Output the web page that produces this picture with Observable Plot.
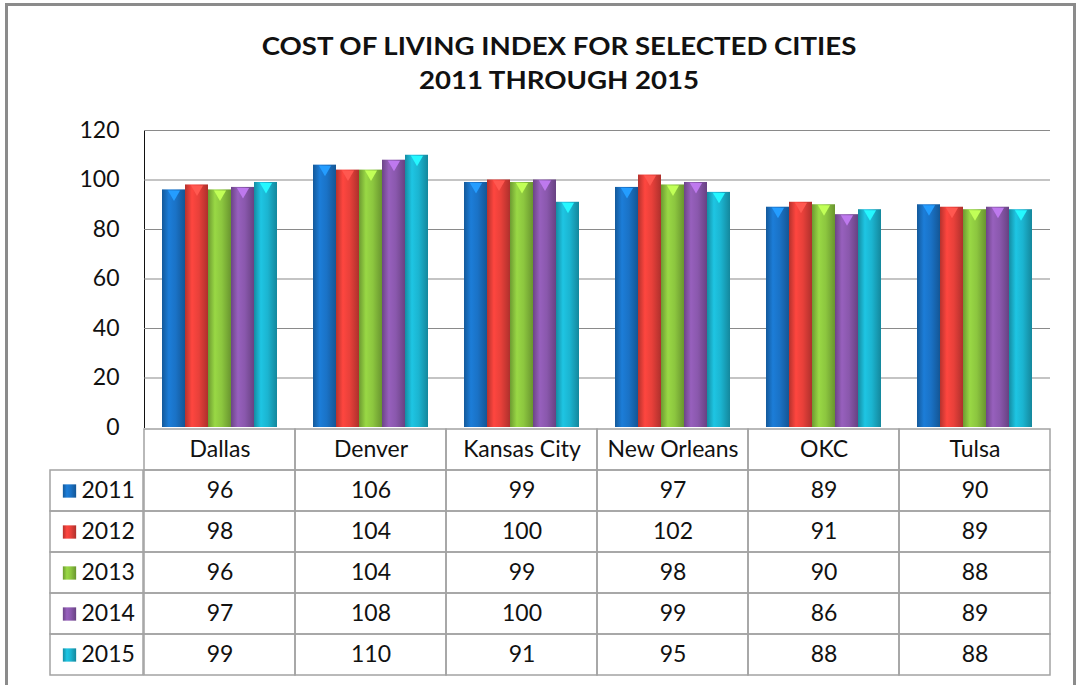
<!DOCTYPE html>
<html><head><meta charset="utf-8">
<script src="https://cdn.jsdelivr.net/npm/d3@7"></script>
<script src="https://cdn.jsdelivr.net/npm/@observablehq/plot@0.6"></script>
<style>
body{margin:0;background:#fff;font-family:Lato,sans-serif;}
#frame{position:absolute;left:5px;top:3px;width:1071px;height:720px;border:3px solid #8b8b8b;border-bottom:none;box-sizing:border-box;}
#title{position:absolute;left:159px;width:800px;top:29px;text-align:center;font-weight:bold;font-size:24px;line-height:34px;color:#111;transform:scaleX(1.15);transform-origin:center;}
#chart{position:absolute;left:0;top:110px;z-index:2;}
#chart svg{overflow:visible;}
#table{position:absolute;left:0;top:426px;z-index:1;}
#legend{position:absolute;left:49px;top:426px;z-index:1;}
</style></head>
<body>
<div id="frame"></div>
<div id="title">COST OF LIVING INDEX FOR SELECTED CITIES<br>2011 THROUGH 2015</div>
<div id="chart"></div><div id="table"></div><div id="legend"></div>
<script>
const cities = ["Dallas", "Denver", "Kansas City", "New Orleans", "OKC", "Tulsa"];
const years = ["2011", "2012", "2013", "2014", "2015"];
const values2011 = [96, 106, 99, 97, 89, 90];
const values2012 = [98, 104, 100, 102, 91, 89];
const values2013 = [96, 104, 99, 98, 90, 88];
const values2014 = [97, 108, 100, 99, 86, 89];
const values2015 = [99, 110, 91, 95, 88, 88];
const yTicks = [0, 20, 40, 60, 80, 100, 120];
const colors = ["#1a72c6", "#e8403a", "#8cc63f", "#8a58ad", "#1bb4d0"];

const series = [values2011, values2012, values2013, values2014, values2015];
const data = cities.flatMap((c, i) => years.map((yr, j) => ({city: c, year: yr, value: series[j][i]})));
const gradUrls = years.map((_, j) => `url(#grad${j})`);
const fontStyle = {fontFamily: "Lato, sans-serif", fontSize: "23px", color: "#111", background: "transparent", overflow: "visible"};

const bevels = years.map((yr, j) => Plot.dot(data.filter(d => d.year === yr), {
  fx: "city", x: "year", y: "value", symbol: "triangle", rotate: 180, r: 4.5, dy: 4,
  fill: d3.color(colors[j]).brighter(0.9).formatHex(), stroke: "none"
}));

const chart = Plot.plot({
  width: 1076, height: 318, marginLeft: 142, marginRight: 25, marginTop: 20, marginBottom: 1,
  style: fontStyle,
  fx: {domain: cities, padding: 0, axis: null},
  x: {domain: years, paddingInner: 0, paddingOuter: 0.735, axis: null},
  y: {domain: [0, 120], ticks: yTicks, tickSize: 0, tickPadding: 25, line: true, label: null},
  color: {domain: years, range: gradUrls},
  marks: [
    Plot.ruleY(yTicks.filter(d => d > 0), {stroke: "#8a8a8a", strokeWidth: 1.2}),
    Plot.barY(data, {fx: "city", x: "year", y: "value", fill: "year"}),
    ...bevels
  ]
});
const defs = d3.select(chart).insert("defs", ":first-child");
colors.forEach((c, j) => {
  const g = defs.append("linearGradient").attr("id", `grad${j}`).attr("x1", 0).attr("x2", 1).attr("y1", 0).attr("y2", 0);
  const base = d3.color(c);
  [[0, base.darker(0.7)], [0.3, base.brighter(0.25)], [0.6, base], [1, base.darker(0.8)]].forEach(([o, col]) =>
    g.append("stop").attr("offset", o).attr("stop-color", col.formatHex()));
});
document.getElementById("chart").append(chart);

const header = cities.map(c => ({col: c, row: "", text: c}));
const body = years.flatMap((yr, j) => cities.map((c, i) => ({col: c, row: yr, text: String(series[j][i])})));
const table = Plot.plot({
  width: 1076, height: 251, marginLeft: 142, marginRight: 25, marginTop: 1, marginBottom: 1,
  style: fontStyle,
  x: {domain: cities, padding: 0, axis: null},
  y: {domain: ["", ...years], padding: 0, axis: null},
  marks: [
    Plot.cell([...header, ...body], {x: "col", y: "row", fill: "none", stroke: "#a3a3a3", strokeWidth: 1.5, inset: 0}),
    Plot.text([...header, ...body], {x: "col", y: "row", text: "text", fill: "#111", fontSize: 23})
  ]
});
document.getElementById("table").append(table);

const legend = Plot.plot({
  width: 94, height: 251, marginLeft: 1, marginRight: 0, marginTop: 1, marginBottom: 1,
  style: fontStyle,
  y: {domain: ["", ...years], padding: 0, axis: null},
  color: {domain: years, range: gradUrls},
  marks: [
    Plot.cell(years, {y: d => d, fill: "none", stroke: "#a3a3a3", strokeWidth: 1.5, inset: 0}),
    Plot.dot(years, {y: d => d, frameAnchor: "left", dx: 19, symbol: "square", r: 7.5, fill: d => d, stroke: "none"}),
    Plot.text(years, {y: d => d, frameAnchor: "left", dx: 31, text: d => d, textAnchor: "start", fill: "#111", fontSize: 23})
  ]
});
document.getElementById("legend").append(legend);
</script>
</body></html>
